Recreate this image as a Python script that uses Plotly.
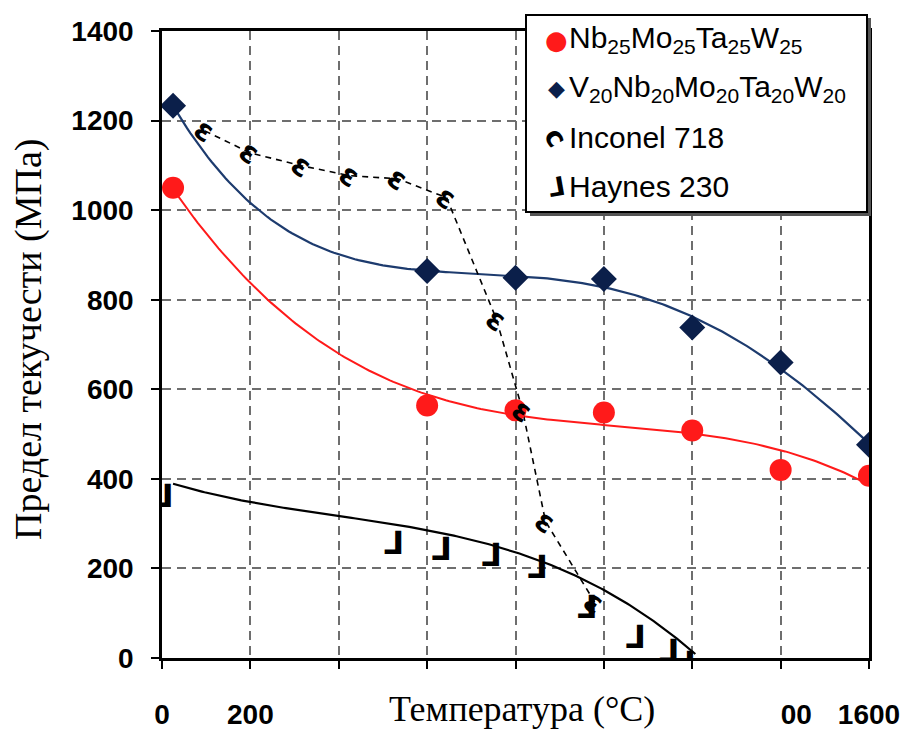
import numpy as np
import plotly.graph_objects as go

# Yield strength (MPa) versus test temperature (°C)
temp_hea = [25, 600, 800, 1000, 1200, 1400, 1600]
nbmotaw = [1050, 564, 553, 548, 508, 420, 407]
vnbmotaw = [1233, 864, 849, 846, 738, 660, 476]

inconel_t = [97, 199, 316, 425, 533, 644, 757, 816, 868, 979]
inconel_y = [1177, 1128, 1099, 1077, 1070, 1028, 756, 553, 305, 125]

haynes_t = [25, 547, 655, 768, 872, 985, 1094, 1170, 1207]
haynes_y = [390, 285, 272, 258, 232, 143, 75, 45, 18]

x_ticks = [0, 200, 400, 600, 800, 1000, 1200, 1400, 1600]
x_ticktext = ["0", "200", "", "", "", "", "", "1400", "1600"]
y_ticks = [0, 200, 400, 600, 800, 1000, 1200, 1400]

legend_labels = [
    "Nb<sub>25</sub>Mo<sub>25</sub>Ta<sub>25</sub>W<sub>25</sub>",
    "V<sub>20</sub>Nb<sub>20</sub>Mo<sub>20</sub>Ta<sub>20</sub>W<sub>20</sub>",
    "Inconel 718",
    "Haynes 230",
]

RED = "#ff1a1a"
NAVY = "#0b1f4a"
NAVY_LINE = "#1d3b6e"

# plot-area geometry in pixels
L, R, T, B = 162, 869, 31, 658


def px_x(p):
    return (p - L) / (R - L)


def px_y(p):
    return (B - p) / (B - T)


def trend(t, y, deg, t0, t1):
    c = np.polyfit(t, y, deg)
    tt = np.linspace(t0, t1, 200)
    return tt, np.polyval(c, tt)


fig = go.Figure()

# polynomial trend lines
tt, yy = trend(temp_hea, nbmotaw, 3, temp_hea[0], temp_hea[-1])
fig.add_trace(go.Scatter(x=tt, y=yy, mode="lines", line=dict(color=RED, width=2), showlegend=False))
tt, yy = trend(temp_hea, vnbmotaw, 4, temp_hea[0], temp_hea[-1])
fig.add_trace(go.Scatter(x=tt, y=yy, mode="lines", line=dict(color=NAVY_LINE, width=2.2), showlegend=False))
tt, yy = trend(haynes_t, haynes_y, 3, haynes_t[0], haynes_t[-1])
fig.add_trace(go.Scatter(x=tt, y=yy, mode="lines", line=dict(color="black", width=2.2), showlegend=False))

# Inconel 718: dashed connecting line
fig.add_trace(go.Scatter(x=inconel_t, y=inconel_y, mode="lines",
                         line=dict(color="black", width=1.6, dash="6px,5px"), showlegend=False))

# Haynes 230 glyph markers
fig.add_trace(go.Scatter(x=haynes_t, y=haynes_y, mode="text", text=["⅃"] * len(haynes_t),
                         textposition="bottom left",
                         textfont=dict(family="DejaVu Sans", size=32, color="black", weight="bold"),
                         showlegend=False))

# alloy data points
fig.add_trace(go.Scatter(x=temp_hea, y=nbmotaw, mode="markers",
                         marker=dict(symbol="circle", size=22, color=RED), showlegend=False))
fig.add_trace(go.Scatter(x=temp_hea, y=vnbmotaw, mode="markers",
                         marker=dict(symbol="diamond", size=20, color=NAVY), showlegend=False))

annotations = []
# Inconel 718 glyph markers
for t, y in zip(inconel_t, inconel_y):
    annotations.append(dict(x=t, y=y, xref="x", yref="y", text="<b>ɛ</b>", showarrow=False,
                            textangle=35, xanchor="center", yanchor="middle",
                            font=dict(family="DejaVu Sans", size=30, color="black")))

shapes = [
    # legend box with drop shadow
    dict(type="rect", xref="paper", yref="paper", layer="above",
         x0=px_x(530), x1=px_x(871), y0=px_y(216), y1=px_y(18),
         fillcolor="#555555", line=dict(width=0)),
    dict(type="rect", xref="paper", yref="paper", layer="above",
         x0=px_x(526), x1=px_x(867), y0=px_y(212), y1=px_y(15),
         fillcolor="white", line=dict(color="black", width=2)),
    # white band behind the x-axis title
    dict(type="rect", xref="paper", yref="paper", layer="above",
         x0=px_x(292), x1=px_x(781), y0=px_y(729), y1=px_y(686),
         fillcolor="white", line=dict(width=0)),
]

row_y = [40, 88, 137, 187]
glyphs = [("●", RED, 26, 0), ("◆", NAVY, 22, 0), ("c", "black", 28, 60), ("⅃", "black", 26, -10)]
for (g, col, sz, ang), lab, ry in zip(glyphs, legend_labels, row_y):
    annotations.append(dict(x=px_x(556), y=px_y(ry), xref="paper", yref="paper", text="<b>" + g + "</b>",
                            showarrow=False, textangle=ang, xanchor="center", yanchor="middle",
                            font=dict(family="DejaVu Sans", size=sz, color=col)))
    annotations.append(dict(x=px_x(567), y=px_y(ry), xref="paper", yref="paper", text=lab,
                            showarrow=False, xanchor="left", yanchor="middle",
                            font=dict(family="Liberation Sans", size=30, color="black")))

# axis titles
annotations.append(dict(x=px_x(522), y=px_y(709), xref="paper", yref="paper",
                        text="Температура (°C)", showarrow=False,
                        xanchor="center", yanchor="middle",
                        font=dict(family="Liberation Serif", size=36, color="black")))
annotations.append(dict(x=px_x(28), y=px_y(339), xref="paper", yref="paper",
                        text="Предел текучести (МПа)", showarrow=False, textangle=-90,
                        xanchor="center", yanchor="middle",
                        font=dict(family="Liberation Serif", size=38, color="black")))

axis_common = dict(
    showline=True, linecolor="black", linewidth=2.5, mirror=True,
    ticks="outside", ticklen=8, tickwidth=2, tickcolor="black",
    showgrid=True, gridcolor="#6e6e6e", gridwidth=2, griddash="9px,6px",
    zeroline=False, automargin=False,
    tickfont=dict(family="Liberation Sans", size=28, color="black", weight="bold"),
)

fig.update_layout(
    width=906, height=729,
    margin=dict(l=L, r=906 - R, t=T, b=729 - B),
    paper_bgcolor="white", plot_bgcolor="white",
    showlegend=False,
    xaxis=dict(range=[0, 1600], tickvals=x_ticks, ticktext=x_ticktext,
               ticklabelstandoff=22, **axis_common),
    yaxis=dict(range=[0, 1400], tickvals=y_ticks, ticklabelstandoff=12, **axis_common),
    shapes=shapes,
    annotations=annotations,
)

fig.write_html("out.html")
